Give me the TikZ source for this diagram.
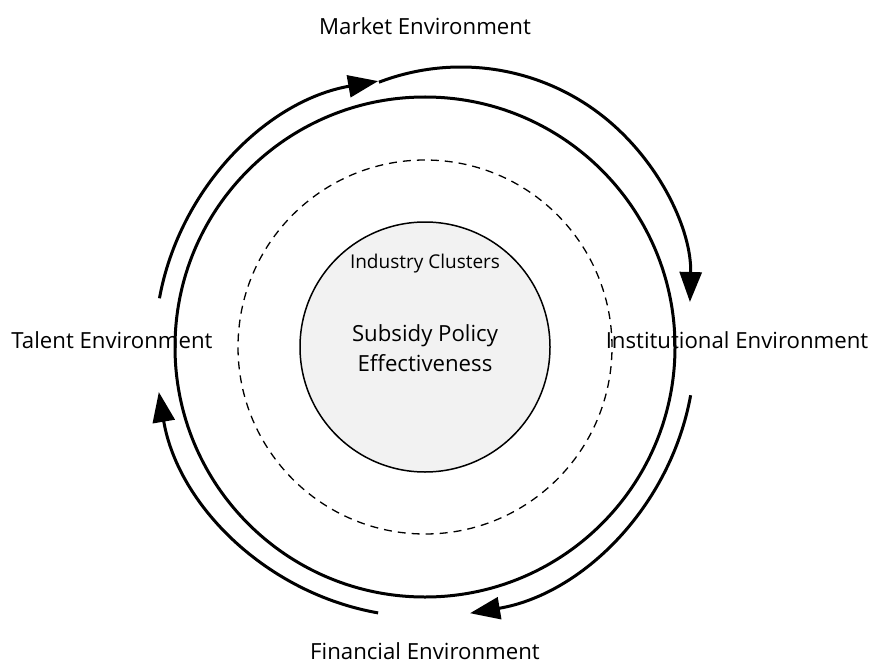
\documentclass[tikz,border=0pt]{standalone}
\usepackage{fontspec}
\setmainfont{Open Sans}
\usetikzlibrary{arrows.meta}

\definecolor{corefill}{HTML}{F2F2F2}

\tikzset{
  flow/.style={line width=3pt, -{Triangle[length=30pt, width=22pt]}},
  ring/.style={line width=3pt},
  zone/.style={line width=1.3pt, dash pattern=on 8pt off 6pt},
  envlabel/.style={font=\fontsize{22.2}{26}\selectfont, inner sep=0pt},
}

\begin{document}
\begin{tikzpicture}[x=1pt, y=1pt]
  \useasboundingbox (0,0) rectangle (872,-663);

  % centre of the concentric rings
  \coordinate (C) at (425,-347);
  % centre of the outward-bulging second half of the upper flow arc
  \coordinate (C2) at (461,-296);

  % core: industry clusters and subsidy policy effectiveness
  \node[circle, draw, line width=1.5pt, fill=corefill, minimum size=250pt, inner sep=0pt] (core) at (C) {};
  \node[font=\fontsize{19}{22}\selectfont, inner sep=0pt] (cluster) at (425,-264) {Industry Clusters};
  \node[font=\fontsize{22.2}{30}\selectfont, align=center, inner sep=0pt] (policy) at (425,-348)
    {Subsidy Policy\\Effectiveness};

  % dashed middle ring and solid outer ring
  \draw[zone] (C) circle[radius=187];
  \draw[ring] (C) circle[radius=250];

  % circulating flows between the four environments
  \draw[flow] ([shift={(169.6:270)}]C) arc[start angle=169.6, end angle=100, radius=270];
  \draw[flow] ([shift={(111:229)}]C2) arc[start angle=111, end angle=-1.5, radius=229];
  \draw[flow] ([shift={(-10.3:270)}]C) arc[start angle=-10.3, end angle=-80.4, radius=270];
  \draw[flow] ([shift={(260:270)}]C) arc[start angle=260, end angle=189.6, radius=270];

  % environment labels
  \node[envlabel] (market) at (425,-26) {Market Environment};
  \node[envlabel] (talent) at (112,-340) {Talent Environment};
  \node[envlabel] (institutional) at (737,-340) {Institutional Environment};
  \node[envlabel] (financial) at (425,-651) {Financial Environment};
\end{tikzpicture}
\end{document}
